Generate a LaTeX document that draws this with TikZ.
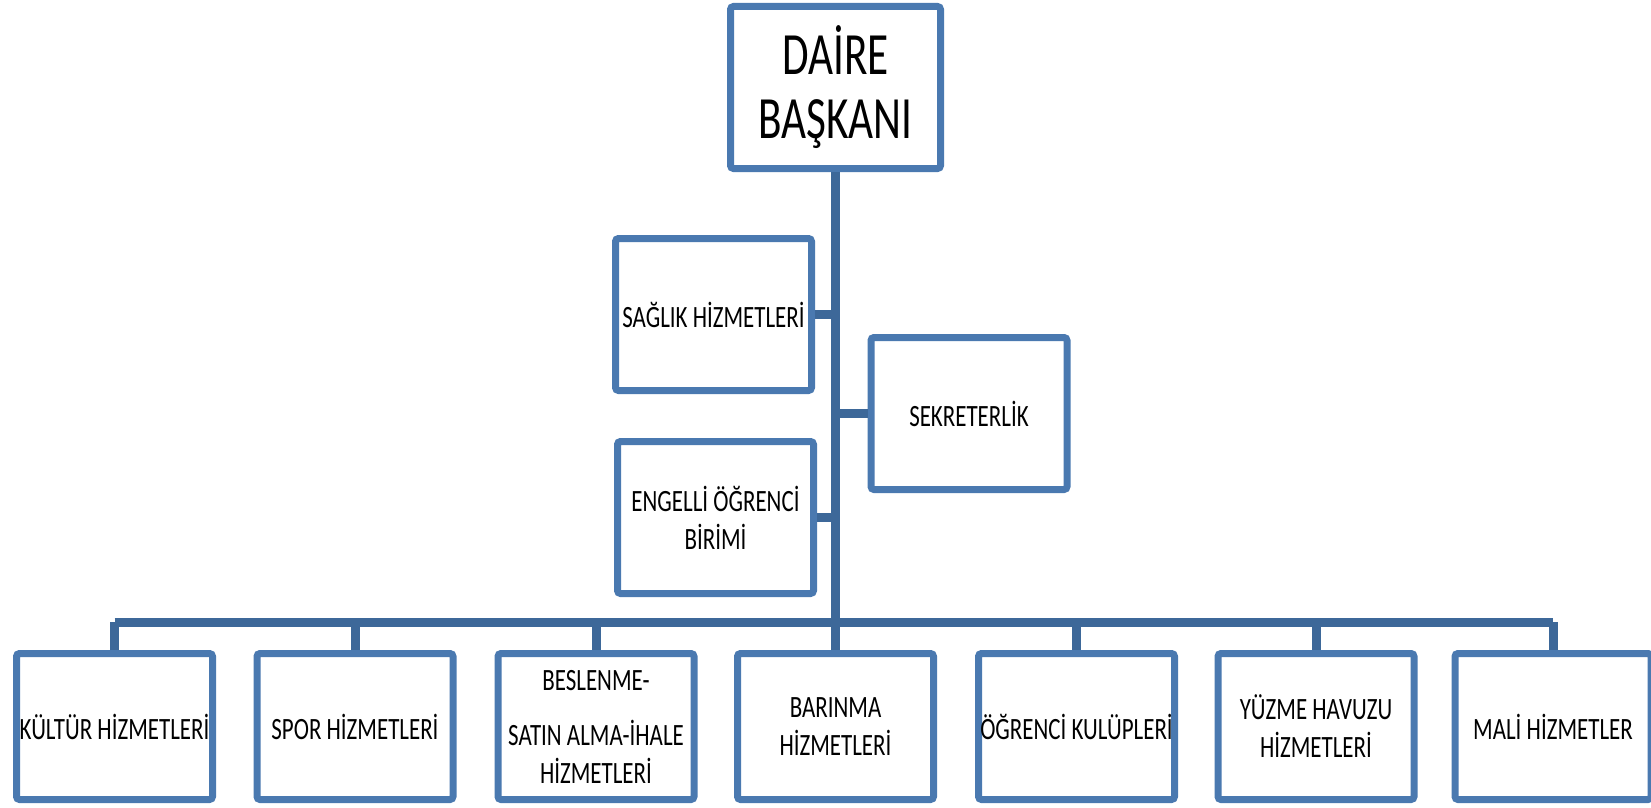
\documentclass[tikz,border=0pt]{standalone}
\usepackage{fontspec}
\setmainfont{Carlito}
\newfontfamily\unitfont[FakeStretch=0.74]{Carlito}
\newfontfamily\headfont[FakeStretch=0.72]{Carlito}
\definecolor{boxblue}{RGB}{74,121,176}
\definecolor{linkblue}{RGB}{61,104,153}
\tikzset{
    unit/.style={draw=boxblue, line width=7pt, rounded corners=3pt, fill=white,
        align=center, inner sep=0pt, minimum width=196pt, minimum height=152pt,
        font=\unitfont\fontsize{31}{38}\selectfont},
    link/.style={draw=linkblue, line width=9pt},
}

\begin{document}
\begin{tikzpicture}[x=1pt,y=-1pt]
    \useasboundingbox (0,0) rectangle (1651,808);
    \pgfmathsetmacro{\busY}{622}  % units of px
    \pgfmathsetmacro{\rowY}{726.5}  % units of px
    % head of the department
    \node[unit, minimum width=210pt, minimum height=162pt,
        font=\headfont\fontsize{60}{64}\selectfont] (daire) at (835.5,87.5) {DAİRE\\BAŞKANI};
    \coordinate (bus) at (835.5,\busY);
    % staff units beside the trunk
    \node[unit] (saglik) at (713.5,314.5) {SAĞLIK HİZMETLERİ};
    \node[unit] (engelli) at (715.5,517.5) {ENGELLİ ÖĞRENCİ\\BİRİMİ};
    \node[unit] (sekreter) at (969,413.5) {SEKRETERLİK};
    % services row
    \foreach \x/\name/\txt in {
        114.5/kultur/{KÜLTÜR HİZMETLERİ},
        355/spor/{SPOR HİZMETLERİ},
        596/beslenme/{BESLENME-\\[17pt]SATIN ALMA-İHALE\\HİZMETLERİ},
        835.5/barinma/{BARINMA\\HİZMETLERİ},
        1076.5/kulup/{ÖĞRENCİ KULÜPLERİ},
        1316/havuz/{YÜZME HAVUZU\\HİZMETLERİ},
        1553/mali/{MALİ HİZMETLER}}
    {
        \node[unit, minimum height=146pt] (\name) at (\x,\rowY) {\txt};
        \draw[link] (\name.north) -- (\name.north |- bus);
    }
    % trunk, bus and side branches
    \draw[link] (daire.south) -- (bus);
    \draw[link] (kultur.north |- bus) -- (mali.north |- bus);
    \draw[link] (saglik.east) -- (saglik.east -| bus);
    \draw[link] (engelli.east) -- (engelli.east -| bus);
    \draw[link] (sekreter.west) -- (sekreter.west -| bus);
\end{tikzpicture}
\end{document}
